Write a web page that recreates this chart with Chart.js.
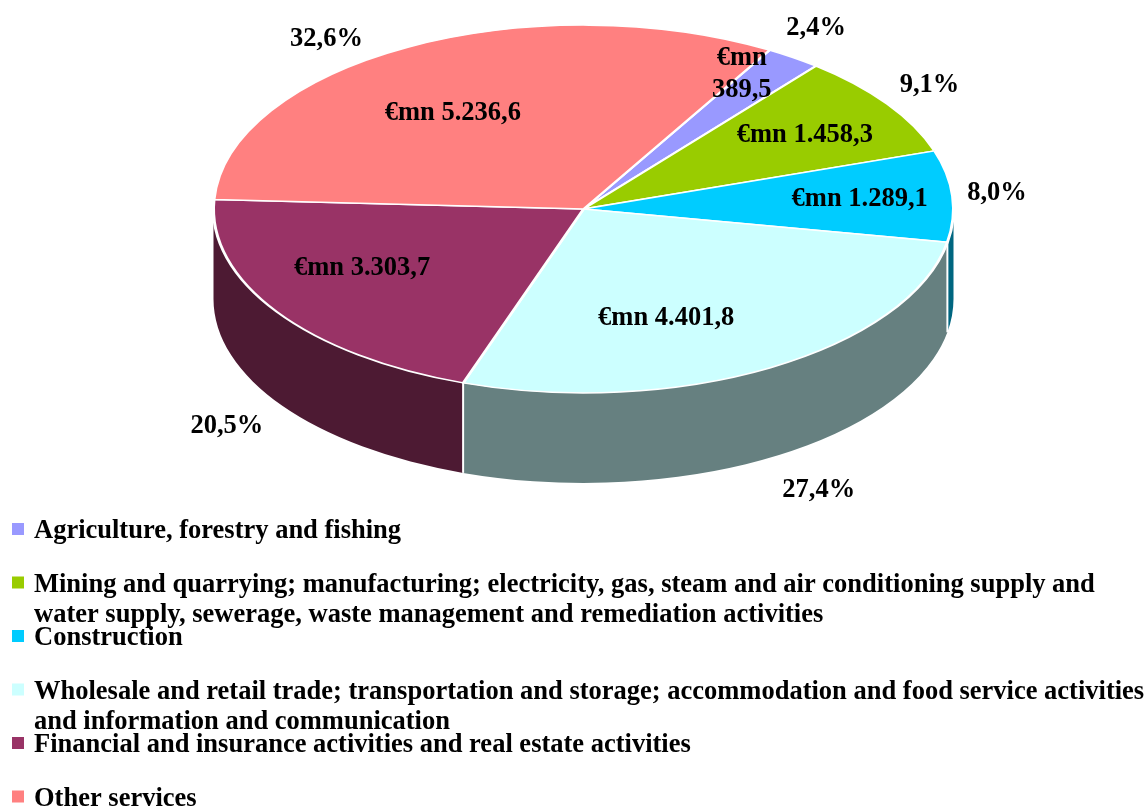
<!DOCTYPE html>
<html>
<head>
<meta charset="utf-8">
<title>Gross value added by economic activity</title>
<script src="https://cdn.jsdelivr.net/npm/chart.js@4.4.1/dist/chart.umd.min.js"></script>
<style>
  html, body { margin: 0; padding: 0; background: #fff; }
  #chart { display: block; }
</style>
</head>
<body>
<canvas id="chart" width="1147" height="809"></canvas>
<script>
// sectors in legend order (clockwise from the top of the pie)
const sectors = [
  'Agriculture, forestry and fishing',
  ['Mining and quarrying; manufacturing; electricity, gas, steam and air conditioning supply and',
   'water supply, sewerage, waste management and remediation activities'],
  'Construction',
  ['Wholesale and retail trade; transportation and storage; accommodation and food service activities',
   'and information and communication'],
  'Financial and insurance activities and real estate activities',
  'Other services'
];
// gross value added, € million
const valuesMn = [389.5, 1458.3, 1289.1, 4401.8, 3303.7, 5236.6];
const topColors = ['#9999FF', '#99CC00', '#00CCFF', '#CCFFFF', '#993366', '#FF8080'];
const sideColors = ['#4D4D80', '#4D6600', '#006680', '#668080', '#4D1A33', '#804040'];

// label placement: [fraction of radius, angle nudge in degrees]
const valueLabelPos = [[0.859, -4.7], [0.728, 0], [0.749, -0.8], [0.621, 9.2], [0.673, 6.8], [0.641, -5]];
const pctLabelPos = [[1.178, -2.3], [1.158, -1.4], [1.122, -1.1], [1.207, -1.5], [1.18, -1.2], [1.167, -8.1]];
const wrapValueLabel = [true, false, false, false, false, false];

const FONT = 'bold 26.5px "Liberation Serif", "Times New Roman", serif';
const CENTER_Y = 209;   // where the top face sits on the page
const TILT = 0.497;     // vertical squash of the top face
const DEPTH = 90;       // height of the pie wall

function fmtMn(v) {
  const [int, dec] = v.toFixed(1).split('.');
  return '€mn ' + int.replace(/\B(?=(\d{3})+(?!\d))/g, '.') + ',' + dec;
}

function fmtPct(v, total) {
  return (v / total * 100).toFixed(1).replace('.', ',') + '%';
}

function project(arc, angle, frac) {
  const r = arc.outerRadius * frac;
  return { x: arc.x + Math.cos(angle) * r, y: CENTER_Y + Math.sin(angle) * r * TILT };
}

const pie3d = {
  id: 'pie3d',
  beforeDatasetsDraw(chart) {
    const ctx = chart.ctx;
    const arcs = chart.getDatasetMeta(0).data;
    // front wall, only the part facing the viewer
    arcs.forEach((arc, i) => {
      const R = arc.outerRadius;
      [-2 * Math.PI, 0, 2 * Math.PI].forEach((off) => {
        const a = Math.max(arc.startAngle, off);
        const b = Math.min(arc.endAngle, off + Math.PI);
        if (b <= a) return;
        ctx.beginPath();
        ctx.ellipse(arc.x, CENTER_Y, R, R * TILT, 0, a, b, false);
        ctx.ellipse(arc.x, CENTER_Y + DEPTH, R, R * TILT, 0, b, a, true);
        ctx.closePath();
        ctx.fillStyle = sideColors[i];
        ctx.fill();
      });
    });
    // white seams between slices on the wall
    ctx.save();
    ctx.strokeStyle = '#fff';
    ctx.lineWidth = 2;
    arcs.forEach((arc) => {
      if (Math.sin(arc.startAngle) <= 0.02) return;
      const p = project(arc, arc.startAngle, 1);
      ctx.beginPath();
      ctx.moveTo(p.x, p.y);
      ctx.lineTo(p.x, p.y + DEPTH);
      ctx.stroke();
    });
    ctx.restore();
    // squash the library's pie into the top face
    ctx.save();
    ctx.translate(0, CENTER_Y);
    ctx.scale(1, TILT);
    ctx.translate(0, -arcs[0].y);
  },
  afterDatasetsDraw(chart) {
    const ctx = chart.ctx;
    ctx.restore();
    const arcs = chart.getDatasetMeta(0).data;
    const total = valuesMn.reduce((s, v) => s + v, 0);
    ctx.save();
    ctx.font = FONT;
    ctx.fillStyle = '#000';
    ctx.textAlign = 'center';
    ctx.textBaseline = 'alphabetic';
    arcs.forEach((arc, i) => {
      const mid = (arc.startAngle + arc.endAngle) / 2;
      const [vf, vd] = valueLabelPos[i];
      const p = project(arc, mid + vd * Math.PI / 180, vf);
      const text = fmtMn(valuesMn[i]);
      if (wrapValueLabel[i]) {
        const parts = text.split(' ');
        ctx.fillText(parts[0], p.x, p.y - 16 + 9);
        ctx.fillText(parts[1], p.x, p.y + 16 + 9);
      } else {
        ctx.fillText(text, p.x, p.y + 9);
      }
      const [pf, pd] = pctLabelPos[i];
      const ang = mid + pd * Math.PI / 180;
      const q = project(arc, ang, pf);
      const drop = Math.sin(ang) > 0 ? DEPTH : 0;
      ctx.fillText(fmtPct(valuesMn[i], total), q.x, q.y + drop + 9);
    });
    ctx.restore();
  }
};

const legendBox = {
  id: 'legendBox',
  afterDraw(chart) {
    const ctx = chart.ctx;
    const ds = chart.data.datasets[0];
    ctx.save();
    ctx.font = FONT;
    ctx.textAlign = 'left';
    ctx.textBaseline = 'alphabetic';
    chart.data.labels.forEach((label, i) => {
      const base = 538 + i * 53.5;
      ctx.fillStyle = ds.backgroundColor[i];
      ctx.fillRect(12, base - 15, 12, 12);
      ctx.fillStyle = '#000';
      const lines = Array.isArray(label) ? label : [label];
      lines.forEach((line, j) => ctx.fillText(line, 34, base + j * 30));
    });
    ctx.restore();
  }
};

new Chart(document.getElementById('chart'), {
  type: 'pie',
  data: {
    labels: sectors,
    datasets: [{
      data: valuesMn,
      backgroundColor: topColors,
      borderColor: '#fff',
      borderWidth: 3
    }]
  },
  options: {
    responsive: false,
    animation: false,
    events: [],
    rotation: 30.2,
    radius: 370,
    layout: { padding: { left: 213, right: 193, top: 0, bottom: 0 } },
    plugins: { legend: { display: false }, tooltip: { enabled: false } }
  },
  plugins: [pie3d, legendBox]
});
</script>
</body>
</html>
